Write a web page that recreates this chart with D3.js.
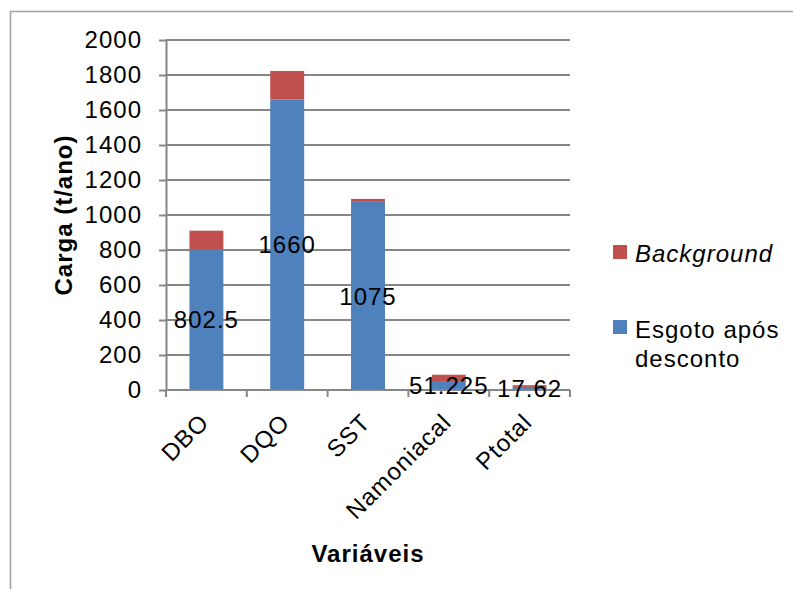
<!DOCTYPE html>
<html>
<head>
<meta charset="utf-8">
<script src="https://cdn.jsdelivr.net/npm/d3@7"></script>
<style>
  body { margin: 0; background: #fff; }
  svg { font-family: "Liberation Sans", Arial, sans-serif; }
  svg text { letter-spacing: 1px; }
</style>
</head>
<body>
<div id="chart"></div>
<script>
// Data
const categories = ['DBO', 'DQO', 'SST', 'Namoniacal', 'Ptotal'];
const esgoto = [802.5, 1660, 1075, 51.225, 17.62];
const background = [108, 163, 17, 36, 10];
const yTicks = [0, 200, 400, 600, 800, 1000, 1200, 1400, 1600, 1800, 2000];
const seriesNames = ['Esgoto após desconto', 'Background'];

const width = 793;
const height = 589;
const margin = {top: 40, right: 223, bottom: 199, left: 166};
const innerW = width - margin.left - margin.right;
const innerH = height - margin.top - margin.bottom;
const fontSize = 24;

const colors = {esgoto: '#4F81BD', background: '#C0504D'};
const gridColor = '#868686';

const svg = d3.select('#chart').append('svg')
  .attr('width', width)
  .attr('height', height);

// outer frame
svg.append('path')
  .attr('d', 'M10.5,' + height + 'V11.5H' + width)
  .attr('fill', 'none')
  .attr('stroke', '#a0a0a0')
  .attr('stroke-width', 1.5);

const x = d3.scaleBand().domain(categories).range([0, innerW]).paddingInner(0.58).paddingOuter(0.29);
const y = d3.scaleLinear().domain([0, 2000]).range([innerH, 0]);

const chart = svg.append('g')
  .attr('transform', 'translate(' + margin.left + ',' + margin.top + ')');

// grid lines
chart.append('g')
  .selectAll('line')
  .data(yTicks.filter(d => d > 0))
  .enter()
  .append('line')
  .attr('x1', 0)
  .attr('x2', innerW)
  .attr('y1', d => y(d))
  .attr('y2', d => y(d))
  .attr('stroke', gridColor)
  .attr('stroke-width', 2);

// stacked bars
const rows = categories.map((c, i) => ({cat: c, esgoto: esgoto[i], background: background[i]}));
const stack = d3.stack().keys(['esgoto', 'background'])(rows);

chart.append('g')
  .selectAll('g')
  .data(stack)
  .enter()
  .append('g')
  .attr('fill', d => colors[d.key])
  .selectAll('rect')
  .data(d => d)
  .enter()
  .append('rect')
  .attr('x', d => x(d.data.cat))
  .attr('width', x.bandwidth())
  .attr('y', d => y(d[1]))
  .attr('height', d => y(d[0]) - y(d[1]));

// y axis
const yAxis = d3.axisLeft(y).tickValues(yTicks).tickFormat(d3.format('d'))
  .tickSize(7).tickSizeOuter(0).tickPadding(17);
const gy = chart.append('g').call(yAxis);
gy.select('.domain').attr('stroke', gridColor).attr('stroke-width', 2);
gy.selectAll('.tick line').attr('stroke', gridColor).attr('stroke-width', 2);
gy.selectAll('.tick text').attr('font-size', fontSize).attr('fill', '#000')
  .attr('font-family', 'Liberation Sans, Arial, sans-serif');

// x axis with separators between categories
const gx = chart.append('g').attr('transform', 'translate(0,' + innerH + ')');
gx.append('line')
  .attr('x1', 0).attr('x2', innerW)
  .attr('stroke', gridColor).attr('stroke-width', 2);
const step = innerW / categories.length;
gx.selectAll('line.sep')
  .data(d3.range(categories.length + 1))
  .enter()
  .append('line')
  .attr('class', 'sep')
  .attr('x1', d => d * step).attr('x2', d => d * step)
  .attr('y1', 0).attr('y2', 7)
  .attr('stroke', gridColor).attr('stroke-width', 2);

gx.selectAll('text')
  .data(categories)
  .enter()
  .append('text')
  .attr('transform', d => 'translate(' + (x(d) + x.bandwidth() / 2 - 8) + ',22) rotate(-45)')
  .attr('text-anchor', 'end')
  .attr('dy', '0.7em')
  .attr('font-size', fontSize)
  .text(d => d);

// data labels for blue series
chart.append('g')
  .selectAll('text')
  .data(rows)
  .enter()
  .append('text')
  .attr('x', d => x(d.cat) + x.bandwidth() / 2)
  .attr('y', d => y(d.esgoto / 2))
  .attr('dy', '0.36em')
  .attr('text-anchor', 'middle')
  .attr('font-size', fontSize)
  .attr('fill', '#000')
  .text(d => d.esgoto);

// axis titles
svg.append('text')
  .attr('transform', 'translate(72,215) rotate(-90)')
  .attr('text-anchor', 'middle')
  .attr('font-size', fontSize)
  .attr('font-weight', 'bold')
  .text('Carga (t/ano)');

svg.append('text')
  .attr('x', 368)
  .attr('y', 562)
  .attr('text-anchor', 'middle')
  .attr('font-size', fontSize)
  .attr('font-weight', 'bold')
  .text('Variáveis');

// legend
const legend = svg.append('g').attr('transform', 'translate(613,0)');
legend.append('rect').attr('x', 0).attr('y', 245).attr('width', 14).attr('height', 14).attr('fill', colors.background);
legend.append('text').attr('x', 22).attr('y', 262).attr('font-size', fontSize).attr('font-style', 'italic').text(seriesNames[1]);
legend.append('rect').attr('x', 0).attr('y', 320).attr('width', 14).attr('height', 14).attr('fill', colors.esgoto);
const lt = legend.append('text').attr('x', 22).attr('y', 338).attr('font-size', fontSize);
lt.append('tspan').attr('x', 22).text('Esgoto após');
lt.append('tspan').attr('x', 22).attr('dy', 29).text('desconto');
</script>
</body>
</html>
